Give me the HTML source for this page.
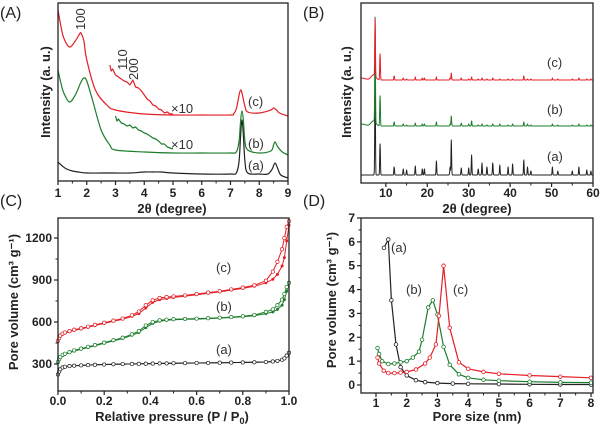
<!DOCTYPE html>
<html><head><meta charset="utf-8"><style>
html,body{margin:0;padding:0;background:#fff}
svg{display:block;font-family:"Liberation Sans",Arial,sans-serif}
.tk{font-size:12px;font-weight:bold;fill:#222}
.al{font-size:13px;font-weight:bold;fill:#222}
.pl{font-size:16px;fill:#222}
.cl{font-size:13px;fill:#333}
</style></head><body>
<svg id="fig" width="600" height="429" viewBox="0 0 600 429" xmlns="http://www.w3.org/2000/svg"></svg>
<script>
// ---- Panel A data ----
const aXa=[1,1.15,1.3,1.5,1.7,2,2.5,3,3.5,4,4.3,4.6,5,6,7,7.2,7.3,7.35,7.4,7.45,7.5,7.6,8,8.3,8.45,8.55,8.65,8.75,9];
const aYa=[19,15,12,10,9,8,8,8,8,9,9,9,8,7,7,8,20,45,61,45,20,8,7,7,12,18,12,6,3];
const aXb=[1,1.1,1.2,1.4,1.6,1.8,1.9,2,2.2,2.5,2.8,3,4,5,6,7,7.2,7.3,7.35,7.4,7.45,7.5,7.6,8,8.4,8.5,8.55,8.65,8.8,9];
const aYb=[111,98,88,79,86,99,103,100,81,51,36,31,29,28,28,28,29,40,60,70,60,40,31,28,30,36,39,34,29,26];
const aXc=[1,1.1,1.2,1.4,1.6,1.75,1.8,1.9,2,2.3,2.7,3,4,5,6,7,7.1,7.2,7.3,7.35,7.4,7.5,7.6,8,8.4,8.5,8.6,8.7,9];
const aYc=[171,155,143,134,140,147,148,140,121,91,76,71,67,66,66,66,67,72,86,91,88,75,69,68,71,73,71,68,65];
const aXb10=[3,3.05,3.1,3.2,3.3,3.4,3.5,3.6,3.7,3.8,3.9,4,4.1,4.2,4.3,4.4,4.5,4.6,4.7,4.8,4.9,5];
const aYb10=[65,60,62,58,57,55,56,53,54,51,50,48,47,45,43,42,40,37,37,34,33,32];
const aXc10=[2.8,2.85,2.9,3,3.1,3.2,3.3,3.4,3.5,3.6,3.7,3.8,3.9,4,4.1,4.2,4.3,4.4,4.5,4.6,4.7,4.8,4.9,5];
const aYc10=[116,110,112,106,104,102,100,99,96,101,94,93,90,86,82,80,76,75,72,71,68,69,67,67];
const aXTicks=[1,2,3,4,5,6,7,8,9];
// ---- Panel B data ----
const bPos=[7.4,8.6,12,14.2,15,17.1,18.8,19.3,22.2,25.5,25.8,28.2,30,30.7,32.3,33.2,34.4,35.8,37.5,39.5,40.6,43.3,44.2,45,50.2,51.5,55,56.6,58.5,59.5];
const bHa=[110,31,8,6,5,9,6,6,14,8,35,7,7,20,6,12,8,12,10,8,11,15,8,4,8,4,4,8,5,4];
const bHb=[105,30,4,2,1,3,2,2,4,2,10,3,2,5,1,2,1,2,2,1,2,4,2,1,2,1,1,2,1,1];
const bHc=[57,26,4,2,1,3,2,2,3,2,7,2,1,3,1,2,1,2,1,1,1,4,1,1,2,1,1,2,1,1];
const bOffsets=[0,49,95];
const bXTicks=[10,20,30,40,50,60];
// ---- Panel C data ----
const cP=[0,0.005,0.01,0.02,0.03,0.05,0.07,0.1,0.13,0.16,0.2,0.24,0.28,0.32,0.35,0.38,0.41,0.44,0.47,0.5,0.55,0.6,0.65,0.7,0.75,0.8,0.85,0.9,0.93,0.95,0.97,0.98,0.99,1.0];
const cA=[225,245,262,275,280,285,288,290,292,294,296,298,299,300,301,302,303,304,304,305,306,307,308,309,310,311,312,314,318,322,330,340,360,380];
const cB=[310,330,345,360,368,380,392,405,418,430,448,465,482,505,525,560,590,605,612,616,619,621,624,628,632,637,645,660,672,690,720,760,820,880];
const cBdes=[315,335,350,365,373,385,397,410,423,435,453,470,488,512,535,575,600,612,617,620,622,624,627,631,635,641,650,672,690,720,760,800,850,880];
const cC=[460,480,498,512,520,530,540,550,562,575,590,605,620,640,660,700,740,760,768,775,785,795,805,815,828,840,855,880,905,940,1000,1060,1180,1290];
const cCdes=[465,485,503,517,525,535,545,555,567,580,595,610,625,648,675,720,755,772,778,783,790,800,810,820,833,846,862,895,960,1030,1120,1200,1280,1320];
const cYTicks=[300,600,900,1200];
const cXTicks=[0,0.2,0.4,0.6,0.8,1.0];
// ---- Panel D data ----
const dXa=[1.26,1.4,1.5,1.65,1.8,2,2.3,2.6,3,3.5,4,5,6,7,8];
const dYa=[5.75,6.1,3.55,1.7,0.75,0.4,0.2,0.12,0.08,0.06,0.05,0.04,0.03,0.02,0.02];
const dXb=[1.05,1.1,1.2,1.4,1.6,1.8,2,2.2,2.4,2.5,2.7,2.85,3.0,3.2,3.4,3.7,4,4.5,5,6,7,8];
const dYb=[1.55,1.3,1.0,0.88,0.9,0.95,1.0,1.15,1.4,1.9,3.25,3.55,2.95,1.6,0.85,0.45,0.3,0.22,0.18,0.14,0.11,0.1];
const dXc=[1.05,1.1,1.25,1.4,1.6,1.8,2,2.3,2.6,2.75,2.95,3.05,3.2,3.4,3.7,4,4.5,5,6,7,8];
const dYc=[1.15,0.9,0.6,0.5,0.5,0.52,0.55,0.65,0.9,1.15,1.7,2.9,5.0,2.4,0.95,0.68,0.55,0.47,0.4,0.35,0.3];
const dYTicks=[0,1,2,3,4,5,6,7];
const dXTicks=[1,2,3,4,5,6,7,8];

const NS="http://www.w3.org/2000/svg";
const svg=document.getElementById('fig');
function mk(tag,attrs,parent){const e=document.createElementNS(NS,tag);for(const k in attrs)e.setAttribute(k,attrs[k]);(parent||svg).appendChild(e);return e;}
function lin(d0,d1,r0,r1){return v=>r0+(v-d0)*(r1-r0)/(d1-d0);}
function pathOf(xs,ys,sx,sy){return xs.map((x,i)=>(i?'L':'M')+sx(x).toFixed(1)+','+sy(ys[i]).toFixed(1)).join('');}
function smoothOf(xs,ys,sx,sy){
  const P=xs.map((x,i)=>[sx(x),sy(ys[i])]);
  let d='M'+P[0][0].toFixed(1)+','+P[0][1].toFixed(1);
  for(let i=0;i<P.length-1;i++){
    const p0=P[i-1]||P[i],p1=P[i],p2=P[i+1],p3=P[i+2]||P[i+1];
    const c1=[p1[0]+(p2[0]-p0[0])/6,p1[1]+(p2[1]-p0[1])/6];
    const c2=[p2[0]-(p3[0]-p1[0])/6,p2[1]-(p3[1]-p1[1])/6];
    d+='C'+c1.map(v=>v.toFixed(1)).join(',')+' '+c2.map(v=>v.toFixed(1)).join(',')+' '+p2.map(v=>v.toFixed(1)).join(',');
  }
  return d;
}
function txt(x,y,s,cls,extra){const t=mk('text',Object.assign({x:x,y:y,class:cls},extra||{}));t.textContent=s;return t;}

function frame(x0,y0,x1,y1,name){
  const r=mk('rect',{x:x0,y:y0,width:x1-x0,height:y1-y0,fill:'none',stroke:'#222','stroke-width':1.3});
  
  
}
function xticks(ticks,sx,yb,labels,yl,minor){
  const g=mk('g',{});
  
  
  ticks.forEach((t,i)=>{const x=sx(t);mk('line',{x1:x,x2:x,y1:yb,y2:yb+4,stroke:'#222','stroke-width':1.2},g);
    const tl=txt(x,yl,labels[i],'tk',{'text-anchor':'middle'});
    
    
    if(minor&&i<ticks.length-1){const m=sx((t+ticks[i+1])/2);mk('line',{x1:m,x2:m,y1:yb,y2:yb+2.5,stroke:'#222','stroke-width':1},g);}
  });
}
function yticks(ticks,sy,xl,labels,xa,minor){
  const g=mk('g',{});
  
  
  ticks.forEach((t,i)=>{const y=sy(t);mk('line',{x1:xl,x2:xl-4,y1:y,y2:y,stroke:'#222','stroke-width':1.2},g);
    const tl=txt(xa,y+4,labels[i],'tk',{'text-anchor':'end'});
    
    
    if(minor&&i<ticks.length-1){const m=sy((t+ticks[i+1])/2);mk('line',{x1:xl,x2:xl-2.5,y1:m,y2:m,stroke:'#222','stroke-width':1},g);}
  });
}
function line(d,color,name,w){const p=mk('path',{d:d,fill:'none',stroke:color,'stroke-width':w||1.2,'stroke-linejoin':'round'});
  
  
  return p;}
function label(x,y,s,cls,name,extra){const t=txt(x,y,s,cls,extra);
  
  
  return t;}
const RED='#e41e26',GRN='#1c7d2c',BLK='#222';

// ===== Panel A =====
{const sx=lin(1,9,58,288), sy=lin(0,178,181,3);
 const cp=mk('clipPath',{id:'ca'});mk('rect',{x:58,y:3,width:230,height:178},cp);
 const g=mk('g',{'clip-path':'url(#ca)'});
 g.appendChild(line(smoothOf(aXa,aYa,sx,sy),BLK,'curve-a'));
 g.appendChild(line(smoothOf(aXb,aYb,sx,sy),GRN,'curve-b'));
 g.appendChild(line(smoothOf(aXc,aYc,sx,sy),RED,'curve-c'));
 g.appendChild(line(pathOf(aXb10,aYb10,sx,sy),GRN,'curve-b-x10'));
 g.appendChild(line(pathOf(aXc10,aYc10,sx,sy),RED,'curve-c-x10'));
 frame(58,3,288,181,'plot-frame-a');
 xticks(aXTicks,sx,181,aXTicks.map(String),197,true);
 label(0,18,'(A)','pl','panel-label-a');
 label(172,213,'2θ (degree)','al','x-axis-title-a',{'text-anchor':'middle'});
 label(0,0,'Intensity (a. u.)','al','y-axis-title-a',{'text-anchor':'middle',transform:'translate(50,92) rotate(-90)'});
 label(0,0,'100','cl','peak-label-100',{transform:'translate(85,30) rotate(-90)','font-size':'11'});
 label(0,0,'110','cl','peak-label-110',{transform:'translate(127,70) rotate(-90)','font-size':'11'});
 label(0,0,'200','cl','peak-label-200',{transform:'translate(138,80) rotate(-90)','font-size':'11'});
 label(171,113,'×10','cl','x10-label-c',{'font-size':'11'});
 label(171,149,'×10','cl','x10-label-b',{'font-size':'11'});
 label(248,106,'(c)','cl','curve-label-c');
 label(248,148,'(b)','cl','curve-label-b');
 label(248,170,'(a)','cl','curve-label-a');
}
// ===== Panel B =====
{const sx=lin(4,60,361,593), sy=lin(0,171,175,4);
 const heights=[bHa,bHb,bHc], cols=[BLK,GRN,RED], names=['curve-a','curve-b','curve-c'];
 const cp=mk('clipPath',{id:'cb'});mk('rect',{x:361,y:3,width:232,height:180},cp);
 const g=mk('g',{'clip-path':'url(#cb)'});
 [0,1,2].forEach(k=>{
   const xs=[],ys=[];
   for(let x=4;x<=60.001;x+=0.05){
     let v=bOffsets[k];
     if(k>0) v+=5*Math.exp(-Math.pow((x-7)/0.8,2))+2*Math.exp(-Math.pow((x-4)/1.5,2));
     bPos.forEach((p,i)=>{v+=heights[k][i]*Math.exp(-Math.pow((x-p)/0.11,2));});
     xs.push(x);ys.push(v);
   }
   g.appendChild(line(pathOf(xs,ys,sx,sy),cols[k],names[k],1));
 });
 frame(361,3,593,183,'plot-frame-b');
 xticks(bXTicks,sx,183,bXTicks.map(String),197,true);
 label(303,18,'(B)','pl','panel-label-b');
 label(477,213,'2θ (degree)','al','x-axis-title-b',{'text-anchor':'middle'});
 label(0,0,'Intensity (a. u.)','al','y-axis-title-b',{'text-anchor':'middle',transform:'translate(351,92) rotate(-90)'});
 label(547,67,'(c)','cl','curve-label-c');
 label(547,114,'(b)','cl','curve-label-b');
 label(547,161,'(a)','cl','curve-label-a');
}
// ===== Panel C =====
{const sx=lin(0,1,58,289), sy=lin(107,1343,391,218);
 const sets=[[cA,cA,BLK,'a'],[cB,cBdes,GRN,'b'],[cC,cCdes,RED,'c']];
 sets.forEach(s=>{
   line(pathOf(cP,s[0],sx,sy),s[2],'isotherm-adsorption-'+s[3],1);
   line(pathOf(cP,s[1],sx,sy),s[2],'isotherm-desorption-'+s[3],1);
   cP.forEach((p,i)=>{
     const m1=mk('circle',{cx:sx(p),cy:sy(s[0][i]),r:1.5,fill:s[2]});
     
     
     const m2=mk('circle',{cx:sx(p),cy:sy(s[1][i]),r:1.7,fill:'#fff',stroke:s[2],'stroke-width':0.7});
     
     
   });
 });
 frame(58,218,289,391,'plot-frame-c');
 xticks(cXTicks,sx,391,cXTicks.map(v=>v.toFixed(1)),405,true);
 yticks(cYTicks,sy,58,cYTicks.map(String),52,true);
 label(0,206,'(C)','pl','panel-label-c');
 const xt=label(172,421,'Relative pressure (P / P','al','x-axis-title-c',{'text-anchor':'middle'});
 const sub=mk('tspan',{'font-size':'9','dy':'3'},xt);sub.textContent='0';
 const cl=mk('tspan',{'dy':'-3'},xt);cl.textContent=')';
 label(0,0,'Pore volume (cm³ g⁻¹)','al','y-axis-title-c',{'text-anchor':'middle',transform:'translate(18,302) rotate(-90)'});
 label(216,272,'(c)','cl','curve-label-c');
 label(216,311,'(b)','cl','curve-label-b');
 label(216,354,'(a)','cl','curve-label-a');
}
// ===== Panel D =====
{const sx=lin(1,8,376,591), sy=lin(0,7,385,218);
 const sets=[[dXa,dYa,BLK,'a'],[dXb,dYb,GRN,'b'],[dXc,dYc,RED,'c']];
 sets.forEach(s=>{
   line(pathOf(s[0],s[1],sx,sy),s[2],'psd-curve-'+s[3]);
   s[0].forEach((x,i)=>{
     const m=mk('circle',{cx:sx(x),cy:sy(s[1][i]),r:1.8,fill:'#fff',stroke:s[2],'stroke-width':0.8});
     
     
   });
 });
 frame(361,218,593,393,'plot-frame-d');
 xticks(dXTicks,sx,393,dXTicks.map(String),407,true);
 yticks(dYTicks,sy,361,dYTicks.map(String),355,true);
 label(303,206,'(D)','pl','panel-label-d');
 label(477,421,'Pore size (nm)','al','x-axis-title-d',{'text-anchor':'middle'});
 label(0,0,'Pore volume (cm³ g⁻¹)','al','y-axis-title-d',{'text-anchor':'middle',transform:'translate(336,300) rotate(-90)'});
 label(391,252,'(a)','cl','curve-label-a');
 label(406,294,'(b)','cl','curve-label-b');
 label(453,294,'(c)','cl','curve-label-c');
}
</script>
</body></html>
